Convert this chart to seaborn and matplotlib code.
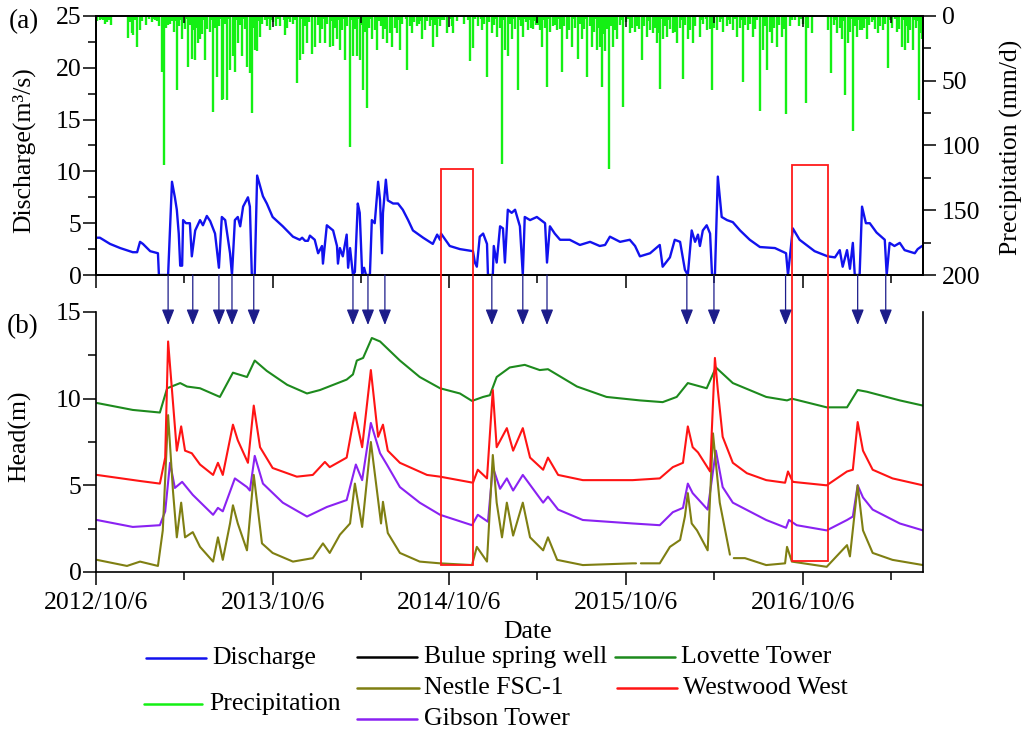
import numpy as np
import pandas as pd
import matplotlib
matplotlib.use("Agg")
import matplotlib.pyplot as plt
import matplotlib.dates as mdates
import seaborn as sns
from matplotlib.ticker import FixedLocator, FixedFormatter, MultipleLocator
from matplotlib.lines import Line2D
from matplotlib.patches import Rectangle, FancyArrowPatch, ArrowStyle

# ---------------- data (days since 2012/10/6) ----------------
start_date = "2012-10-06"
end_day = 1709

# Discharge (m3/s)
q_day = [0, 8, 29, 50, 76, 85, 91, 97, 112, 128,
         130, 149, 157, 163, 167, 171, 174, 178, 180, 186,
         194, 198, 205, 215, 221, 229, 236, 246, 254, 260,
         267, 277, 281, 287, 293, 298, 304, 314, 318, 322,
         328, 333, 345, 353, 365, 386, 407, 421, 426, 432,
         438, 442, 452, 459, 467, 469, 477, 490, 498, 500,
         504, 510, 518, 521, 525, 531, 535, 541, 545, 550,
         554, 558, 566, 570, 576, 583, 587, 591, 593, 599,
         603, 614, 624, 634, 645, 655, 676, 696, 705, 711,
         713, 731, 752, 779, 783, 787, 793, 800, 808, 810,
         820, 822, 828, 835, 841, 845, 851, 859, 866, 876,
         882, 886, 897, 911, 928, 932, 938, 948, 959, 979,
         1000, 1021, 1041, 1052, 1062, 1083, 1103, 1114, 1124, 1145,
         1165, 1171, 1186, 1196, 1207, 1217, 1223, 1231, 1238, 1244,
         1248, 1254, 1262, 1269, 1273, 1279, 1285, 1293, 1304, 1316,
         1331, 1351, 1372, 1403, 1426, 1430, 1440, 1454, 1485, 1512,
         1527, 1537, 1543, 1552, 1558, 1564, 1568, 1578, 1583, 1591,
         1599, 1613, 1630, 1634, 1640, 1650, 1661, 1671, 1692, 1698,
         1707]
q_val = [3.6, 3.6, 3.0, 2.6, 2.2, 2.2, 3.2, 3.0, 2.3, 2.1,
         0, 0, 9.0, 7.5, 6.3, 4.0, 0.9, 0.9, 5.3, 5.0,
         5.0, 1.8, 4.3, 5.3, 4.8, 5.7, 5.2, 4.0, 0.7, 5.6,
         5.3, 2.1, 0, 5.3, 5.6, 4.7, 6.6, 7.5, 6.6, 0,
         0, 9.6, 7.6, 6.9, 5.6, 4.7, 3.7, 3.4, 3.6, 3.3,
         3.3, 3.8, 3.4, 2.1, 2.8, 1.1, 4.8, 4.3, 2.8, 1.1,
         2.6, 1.8, 3.9, 0.7, 2.6, 0, 0.3, 6.9, 6.0, 0.1,
         0.7, 0, 0, 5.3, 5.0, 9.0, 7.2, 2.1, 6.0, 9.2,
         7.2, 6.9, 6.9, 6.3, 5.3, 4.3, 3.6, 3.0, 3.9, 3.4,
         4.0, 2.8, 2.5, 2.3, 1.2, 0.8, 3.7, 4.0, 3.0, 0,
         0, 2.8, 1.2, 4.7, 4.5, 1.2, 6.3, 6.0, 6.3, 4.7,
         0, 5.6, 5.3, 5.6, 5.0, 1.2, 4.7, 4.0, 3.4, 3.4,
         2.9, 3.2, 2.8, 2.9, 3.7, 3.2, 3.4, 2.8, 1.8, 2.1,
         2.9, 0.8, 1.7, 3.4, 3.2, 0.5, 0, 4.3, 3.2, 3.9,
         2.8, 4.3, 4.8, 4.0, 0, 0, 9.5, 5.6, 5.3, 5.1,
         4.3, 3.4, 2.7, 2.6, 2.1, 0, 4.5, 3.4, 2.3, 1.8,
         1.7, 2.4, 0.8, 2.4, 0.6, 3.1, 0, 0, 6.6, 5.0,
         5.0, 4.1, 3.4, 0, 3.1, 2.8, 3.1, 2.4, 2.1, 2.5,
         2.8]

# Precipitation (mm/d): larger events
rain_day = [8, 23, 31, 66, 74, 76, 85, 91, 116, 126,
            136, 140, 149, 157, 167, 178, 190, 198, 205, 211,
            215, 225, 242, 250, 260, 262, 271, 277, 283, 287,
            293, 302, 312, 318, 322, 328, 333, 339, 353, 366,
            380, 390, 401, 415, 421, 428, 436, 446, 452, 463,
            473, 483, 490, 498, 504, 514, 525, 531, 539, 545,
            552, 560, 570, 581, 593, 601, 612, 622, 628, 643,
            653, 663, 674, 680, 690, 696, 705, 711, 725, 736,
            738, 773, 779, 797, 808, 818, 828, 839, 845, 851,
            859, 872, 882, 893, 903, 913, 921, 932, 944, 952,
            963, 973, 983, 996, 1004, 1014, 1025, 1035, 1041, 1045,
            1052, 1060, 1068, 1076, 1089, 1103, 1118, 1128, 1138, 1151,
            1159, 1165, 1171, 1180, 1192, 1200, 1213, 1223, 1233, 1248,
            1262, 1273, 1283, 1289, 1316, 1324, 1337, 1347, 1357, 1372,
            1378, 1386, 1397, 1407, 1417, 1426, 1434, 1444, 1467, 1479,
            1512, 1519, 1531, 1541, 1547, 1554, 1564, 1572, 1583, 1593,
            1603, 1616, 1626, 1636, 1665, 1671, 1678, 1688, 1700, 1707]
rain_mm = [3, 5, 7, 17, 13, 15, 24, 11, 5, 4,
           43, 115, 7, 4, 57, 18, 39, 33, 34, 21,
           18, 34, 74, 47, 65, 64, 65, 42, 31, 43,
           21, 31, 39, 44, 75, 26, 27, 16, 8, 5,
           8, 15, 5, 52, 34, 29, 21, 29, 24, 21,
           21, 24, 23, 18, 26, 34, 101, 31, 31, 34,
           57, 71, 18, 26, 18, 21, 24, 13, 26, 42,
           13, 8, 18, 11, 8, 24, 16, 8, 13, 8,
           13, 35, 25, 11, 47, 13, 16, 114, 26, 31,
           18, 57, 16, 11, 10, 7, 24, 55, 8, 11,
           43, 18, 24, 33, 18, 47, 24, 26, 24, 55,
           27, 118, 24, 18, 70, 13, 8, 34, 16, 13,
           21, 56, 18, 16, 13, 21, 49, 18, 21, 16,
           11, 57, 11, 5, 11, 16, 51, 11, 16, 73,
           26, 42, 21, 24, 16, 76, 8, 3, 67, 13,
           11, 44, 13, 18, 61, 21, 89, 16, 11, 18,
           5, 13, 11, 40, 24, 26, 21, 26, 65, 18]
# Precipitation (mm/d): moderate daily events
drizzle_day = [3, 14, 19, 70, 80, 95, 104, 110, 121, 131,
               144, 153, 162, 172, 183, 194, 201, 208, 219, 230,
               236, 246, 255, 266, 297, 307, 326, 344, 359, 372,
               395, 408, 432, 441, 458, 468, 478, 494, 509, 519,
               535, 549, 556, 565, 576, 588, 597, 607, 617, 633,
               648, 658, 668, 685, 700, 716, 746, 760, 789, 802,
               813, 823, 834, 856, 866, 878, 888, 898, 909, 917,
               927, 938, 948, 958, 968, 978, 990, 1000, 1009, 1020,
               1030, 1038, 1049, 1056, 1064, 1072, 1082, 1095, 1108, 1113,
               1123, 1133, 1145, 1155, 1162, 1175, 1186, 1196, 1207, 1218,
               1228, 1238, 1255, 1268, 1278, 1295, 1303, 1310, 1330, 1342,
               1352, 1362, 1383, 1392, 1402, 1412, 1422, 1452, 1460, 1472,
               1525, 1537, 1558, 1568, 1578, 1588, 1598, 1610, 1621, 1631,
               1645, 1655, 1660, 1675, 1683, 1694, 1703]
drizzle_mm = [4, 3, 6, 5, 3, 4, 7, 2, 3, 8,
              9, 6, 12, 8, 10, 7, 11, 9, 14, 10,
              12, 9, 8, 6, 7, 10, 9, 6, 11, 8,
              9, 6, 8, 5, 7, 10, 6, 9, 11, 8,
              10, 7, 12, 9, 11, 8, 10, 13, 9, 6,
              8, 5, 6, 4, 7, 3, 4, 6, 8, 6,
              5, 7, 9, 6, 10, 8, 5, 9, 7, 11,
              9, 12, 7, 10, 8, 11, 9, 6, 10, 8,
              12, 9, 14, 10, 8, 11, 7, 5, 9, 12,
              10, 8, 11, 9, 13, 8, 10, 12, 9, 7,
              11, 8, 6, 10, 9, 12, 8, 6, 9, 7,
              6, 10, 8, 12, 9, 7, 10, 8, 6, 9,
              7, 9, 12, 8, 11, 9, 7, 10, 8, 6,
              9, 12, 10, 8, 11, 9, 13]
# Precipitation (mm/d): light daily events
light_day = [11, 27, 100, 118, 150, 158, 165, 176, 187, 196,
             212, 222, 227, 240, 258, 268, 274, 290, 305, 310,
             320, 330, 336, 349, 356, 364, 377, 388, 398, 412,
             425, 439, 449, 461, 471, 486, 501, 512, 528, 542,
             559, 569, 584, 594, 610, 625, 640, 655, 672, 682,
             693, 709, 720, 733, 752, 768, 784, 795, 810, 826,
             842, 853, 862, 875, 885, 895, 906, 915, 924, 935,
             945, 955, 965, 975, 987, 997, 1011, 1022, 1033, 1043,
             1058, 1070, 1086, 1099, 1115, 1130, 1142, 1153, 1168, 1183,
             1194, 1210, 1225, 1236, 1250, 1260, 1275, 1292, 1306, 1320,
             1335, 1350, 1366, 1380, 1395, 1410, 1420, 1438, 1456, 1470,
             1518, 1530, 1545, 1560, 1575, 1590, 1605, 1618, 1628, 1640,
             1652, 1668, 1680, 1690, 1698, 1705]
light_mm = [2, 3, 1, 2, 3, 2, 4, 3, 2, 3,
            4, 3, 2, 3, 2, 1, 2, 3, 2, 3,
            3, 2, 4, 3, 2, 3, 2, 3, 2, 3,
            2, 3, 1, 3, 2, 4, 3, 2, 3, 2,
            3, 2, 4, 3, 2, 3, 2, 3, 4, 2,
            3, 2, 3, 2, 1, 3, 2, 2, 3, 2,
            3, 4, 2, 3, 2, 3, 4, 2, 3, 2,
            3, 2, 3, 4, 2, 3, 2, 3, 2, 3,
            4, 2, 3, 2, 3, 2, 4, 3, 2, 3,
            2, 3, 2, 4, 3, 2, 3, 2, 3, 2,
            3, 2, 3, 2, 4, 3, 2, 3, 2, 3,
            2, 3, 4, 2, 3, 2, 3, 2, 4, 3,
            2, 3, 2, 3, 4, 2]

# Heads (m)
nan = np.nan
lov_day = [2, 76, 132, 147, 174, 188, 215, 256, 283, 312,
           328, 353, 395, 436, 463, 518, 531, 539, 552, 570,
           587, 628, 669, 711, 752, 777, 800, 814, 828, 855,
           886, 917, 934, 994, 1055, 1124, 1171, 1200, 1223, 1262,
           1281, 1316, 1385, 1428, 1438, 1510, 1552, 1574, 1593, 1661,
           1709]
lov_val = [9.75, 9.35, 9.2, 10.6, 10.9, 10.7, 10.6, 10.1, 11.5, 11.25,
           12.2, 11.6, 10.8, 10.3, 10.5, 11.1, 11.4, 12.2, 12.35, 13.5,
           13.3, 12.2, 11.25, 10.6, 10.3, 9.87, 10.1, 10.2, 11.25, 11.8,
           11.95, 11.65, 11.7, 10.7, 10.1, 9.9, 9.8, 10.1, 10.9, 10.6,
           11.8, 10.9, 10.1, 9.9, 10.0, 9.5, 9.5, 10.5, 10.4, 9.9,
           9.6]
ww_day = [2, 91, 132, 143, 149, 157, 167, 176, 184, 198,
          215, 242, 252, 262, 283, 293, 314, 326, 339, 365,
          415, 448, 473, 483, 518, 535, 550, 568, 583, 593,
          603, 628, 684, 711, 779, 789, 808, 820, 828, 849,
          862, 882, 897, 924, 934, 955, 1006, 1109, 1165, 1192,
          1213, 1223, 1233, 1244, 1269, 1279, 1285, 1295, 1316, 1345,
          1385, 1424, 1430, 1440, 1510, 1552, 1564, 1574, 1585, 1605,
          1646, 1709]
ww_val = [5.6, 5.25, 5.1, 6.6, 13.3, 10.5, 7.0, 8.4, 7.0, 6.85,
          6.2, 5.6, 6.3, 5.6, 8.5, 7.6, 6.3, 9.6, 7.2, 6.0,
          5.5, 5.6, 6.35, 6.05, 6.6, 9.2, 7.2, 11.65, 7.8, 8.5,
          7.0, 6.3, 5.6, 5.5, 5.15, 5.9, 5.4, 10.5, 7.2, 8.3,
          7.0, 8.3, 6.6, 5.9, 6.6, 5.6, 5.3, 5.3, 5.4, 6.05,
          6.3, 8.4, 7.2, 6.9, 5.8, 12.35, 10.5, 7.8, 6.3, 5.7,
          5.3, 5.15, 5.8, 5.2, 5.0, 5.8, 5.9, 8.65, 7.0, 5.9,
          5.4, 5.0]
gb_day = [2, 76, 132, 143, 153, 163, 178, 200, 242, 252,
          262, 287, 312, 318, 328, 345, 386, 436, 477, 518,
          537, 550, 568, 587, 601, 628, 669, 711, 777, 789,
          810, 820, 835, 849, 862, 882, 924, 934, 955, 1006,
          1109, 1165, 1192, 1213, 1223, 1233, 1264, 1281, 1295, 1316,
          1385, 1426, 1432, 1448, 1510, 1552, 1564, 1574, 1585, 1605,
          1661, 1709]
gb_val = [3.0, 2.6, 2.7, 3.5, 6.3, 4.85, 5.2, 4.45, 3.3, 3.7,
          3.5, 5.4, 4.9, 4.7, 6.7, 5.1, 4.0, 3.2, 3.75, 4.15,
          6.2, 5.3, 8.6, 6.85, 6.2, 4.9, 4.0, 3.3, 2.7, 3.3,
          2.9, 6.05, 4.8, 5.4, 4.7, 5.6, 4.0, 4.35, 3.6, 3.0,
          2.8, 2.7, 3.45, 3.7, 5.1, 4.55, 3.6, 7.0, 4.9, 4.0,
          3.0, 2.55, 3.0, 2.7, 2.4, 3.0, 3.2, 5.0, 4.3, 3.6,
          2.8, 2.4]
ns_day = [2, 64, 91, 128, 138, 149, 159, 167, 176, 184,
          200, 215, 242, 252, 262, 277, 283, 293, 312, 326,
          343, 365, 407, 448, 469, 483, 504, 525, 535, 550,
          568, 583, 589, 593, 603, 628, 669, 711, 777, 787,
          808, 820, 828, 839, 849, 862, 882, 897, 924, 934,
          953, 1006, 1109, 1116, 1121, 1126, 1165, 1186, 1207, 1217,
          1223, 1231, 1242, 1264, 1275, 1289, 1310, 1314, 1318, 1341,
          1385, 1424, 1428, 1438, 1510, 1552, 1558, 1574, 1585, 1605,
          1646, 1709]
ns_val = [0.7, 0.35, 0.6, 0.35, 2.4, 9.05, 4.7, 2.0, 4.0, 2.0,
          2.3, 1.45, 0.6, 2.0, 0.7, 2.8, 3.85, 2.8, 1.25, 5.6,
          1.65, 1.1, 0.6, 0.8, 1.65, 1.1, 2.15, 2.8, 5.1, 2.6,
          7.5, 4.15, 2.8, 4.05, 2.25, 1.1, 0.6, 0.5, 0.4, 1.45,
          0.6, 6.75, 4.0, 2.0, 4.0, 2.1, 4.0, 2.0, 1.25, 2.0,
          0.7, 0.4, 0.5, 0.5, nan, 0.5, 0.5, 1.45, 1.85, 3.2,
          4.55, 2.8, 2.4, 1.25, 8.0, 4.0, 1.0, nan, 0.8, 0.8,
          0.4, 0.5, 1.45, 0.6, 0.3, 1.55, 0.9, 5.0, 2.4, 1.1,
          0.7, 0.4]

arrow_day = [149, 200, 254, 281, 326, 531, 562, 597, 818, 882, 932,
             1221, 1277, 1425, 1574, 1632]
box_days = [(713, 779), (1438, 1512)]
box_top_q = [10.2, 10.6]      # in discharge units (panel a)
box_bottom_h = [0.4, 0.63]    # in head units (panel b)

tick_labels = ["2012/10/6", "2013/10/6", "2014/10/6", "2015/10/6", "2016/10/6"]

series_names = ["Gibson Tower", "Nestle FSC-1", "Lovette Tower", "Westwood West"]
colors = {"Discharge": "#1212ee", "Precipitation": "#14f014",
          "Bulue spring well": "#000000", "Lovette Tower": "#1d8a1d",
          "Nestle FSC-1": "#7f7f12", "Westwood West": "#ff1414",
          "Gibson Tower": "#8a22f2"}

# ---------------- style ----------------
sns.set_theme(style="ticks", rc={
    "axes.edgecolor": "black", "axes.linewidth": 1.2,
    "xtick.color": "black", "ytick.color": "black",
    "text.color": "black", "axes.labelcolor": "black"})
plt.rcParams["font.family"] = ["Liberation Serif", "DejaVu Serif"]
FS = 18.5

start = pd.Timestamp(start_date)
def to_date(days):
    return start + pd.to_timedelta(np.asarray(days, dtype=float), unit="D")

W, H = 1027, 735
fig = plt.figure(figsize=(W / 100, H / 100), dpi=100)
def fx(p): return p / W
def fy(p): return 1 - p / H

ax1 = fig.add_axes([fx(96), fy(275), fx(923 - 96), (275 - 16) / H])
ax2 = fig.add_axes([fx(96), fy(572), fx(923 - 96), (572 - 312) / H])

# ---------------- panel (a) ----------------
df_q = pd.DataFrame({"date": to_date(q_day), "value": q_val})
sns.lineplot(data=df_q, x="date", y="value", color=colors["Discharge"],
             lw=1.7, estimator=None, ax=ax1)
ax1.set_ylim(0, 25)

ax1r = ax1.twinx()
rd = to_date(list(rain_day) + list(drizzle_day) + list(light_day))
rm = list(rain_mm) + list(drizzle_mm) + list(light_mm)
ax1r.vlines(mdates.date2num(rd), 0, rm, color=colors["Precipitation"], lw=1.7)
ax1r.set_ylim(200, 0)

# ---------------- panel (b) ----------------
rows = []
for name, dd, vv in [("Gibson Tower", gb_day, gb_val), ("Nestle FSC-1", ns_day, ns_val),
                     ("Lovette Tower", lov_day, lov_val), ("Westwood West", ww_day, ww_val)]:
    seg = 0
    for d, v in zip(dd, vv):
        if np.isnan(v):
            seg += 1
            continue
        rows.append({"date": start + pd.Timedelta(days=d), "value": v,
                     "series": name, "seg": f"{name}-{seg}"})
df_h = pd.DataFrame(rows)
sns.lineplot(data=df_h, x="date", y="value", hue="series", hue_order=series_names,
             units="seg", estimator=None, palette=colors, lw=1.5, legend=False, ax=ax2)
ax2.set_ylim(0, 15)

# ---------------- axes formatting ----------------
end = to_date([end_day])[0]
major = mdates.date2num([pd.Timestamp(f"{y}-10-06") for y in range(2012, 2017)])
minor = mdates.date2num([pd.Timestamp(f"{y}-04-06") for y in range(2013, 2018)])
for ax in (ax1, ax2):
    ax.set_xlim(mdates.date2num(start), mdates.date2num(end))
    ax.xaxis.set_major_locator(FixedLocator(major))
    ax.xaxis.set_minor_locator(FixedLocator(minor))
    ax.set_xlabel("")
    ax.set_ylabel("")
    ax.tick_params(which="major", direction="out", length=9.4, width=1.1, labelsize=FS)
    ax.tick_params(which="minor", direction="out", length=5.8, width=1.1)
ax1.xaxis.set_major_formatter(FixedFormatter([""] * 5))
ax2.xaxis.set_major_formatter(FixedFormatter(tick_labels))
ax2.tick_params(axis="x", which="major", pad=5)
ax1.tick_params(axis="y", which="major", pad=1)
ax2.tick_params(axis="y", which="major", pad=1)

ax1.yaxis.set_major_locator(MultipleLocator(5))
ax1.yaxis.set_minor_locator(MultipleLocator(2.5))
ax2.yaxis.set_major_locator(MultipleLocator(5))
ax2.yaxis.set_minor_locator(MultipleLocator(2.5))
ax1r.yaxis.set_major_locator(MultipleLocator(50))
ax1r.yaxis.set_minor_locator(MultipleLocator(25))
ax1r.tick_params(which="major", direction="out", length=9.4, width=1.1, labelsize=FS, pad=4)
ax1r.tick_params(which="minor", direction="out", length=5.8, width=1.1)
ax1r.set_ylabel("")

# inward ticks on the top frame of panel (a)
ax1t = ax1.twiny()
ax1t.set_xlim(mdates.date2num(start), mdates.date2num(end))
ax1t.xaxis.set_major_locator(FixedLocator(major))
ax1t.xaxis.set_minor_locator(FixedLocator(minor))
ax1t.tick_params(which="major", direction="in", length=8, width=1.1, labeltop=False)
ax1t.tick_params(which="minor", direction="in", length=5, width=1.1)

ax2.spines["top"].set_visible(False)
ax2.tick_params(right=False, top=False)
for ax in (ax1, ax1r, ax1t, ax2):
    for s in ax.spines.values():
        s.set_linewidth(1.2)

# ---------------- text ----------------
fig.text(fx(24), fy(22), "(a)", fontsize=FS + 1, ha="center", va="center")
fig.text(fx(23), fy(327), "(b)", fontsize=FS + 1, ha="center", va="center")
fig.text(fx(24), fy(150), "Discharge(m³/s)", fontsize=FS, rotation=90, ha="center", va="center")
fig.text(fx(1011), fy(147), "Precipitation (mm/d)", fontsize=FS, rotation=90, ha="center", va="center")
fig.text(fx(20), fy(436), "Head(m)", fontsize=FS, rotation=90, ha="center", va="center")
fig.text(fx(528), fy(632), "Date", fontsize=FS, ha="center", va="center")

# ---------------- arrows and boxes ----------------
inv = fig.transFigure.inverted()
for d in arrow_day:
    x = mdates.date2num(to_date([d])[0])
    pA = inv.transform(ax1.transData.transform((x, 0)))
    pB = inv.transform(ax2.transData.transform((x, 14.25)))
    arr = FancyArrowPatch(pA, pB, transform=fig.transFigure,
                          arrowstyle=ArrowStyle("-|>", head_length=0.5, head_width=0.2),
                          mutation_scale=19, color="#1c1c8a", lw=0.9,
                          shrinkA=0, shrinkB=0, zorder=12)
    fig.add_artist(arr)

for (d0, d1), t, b in zip(box_days, box_top_q, box_bottom_h):
    x0 = mdates.date2num(to_date([d0])[0])
    x1 = mdates.date2num(to_date([d1])[0])
    p0 = inv.transform(ax1.transData.transform((x0, t)))
    p1 = inv.transform(ax2.transData.transform((x1, b)))
    fig.add_artist(Rectangle((p0[0], p1[1]), p1[0] - p0[0], p0[1] - p1[1],
                             transform=fig.transFigure, fill=False,
                             ec="#ff1a1a", lw=1.3, zorder=11))

# ---------------- legend (manual layout) ----------------
legend_items = [("Discharge", 146, 206, 658, 212),
                ("Bulue spring well", 357, 417, 657, 424),
                ("Lovette Tower", 615, 675, 657, 681),
                ("Nestle FSC-1", 357, 419, 688, 424),
                ("Westwood West", 617, 677, 688, 683),
                ("Precipitation", 144, 202, 704, 209),
                ("Gibson Tower", 357, 417, 719, 424)]
for name, xa, xb, yy, xt in legend_items:
    fig.add_artist(Line2D([fx(xa), fx(xb)], [fy(yy), fy(yy)], transform=fig.transFigure,
                          color=colors[name], lw=1.8))
    fig.text(fx(xt), fy(yy), name, fontsize=FS, ha="left", va="center")

fig.savefig("out.png", dpi=100)
